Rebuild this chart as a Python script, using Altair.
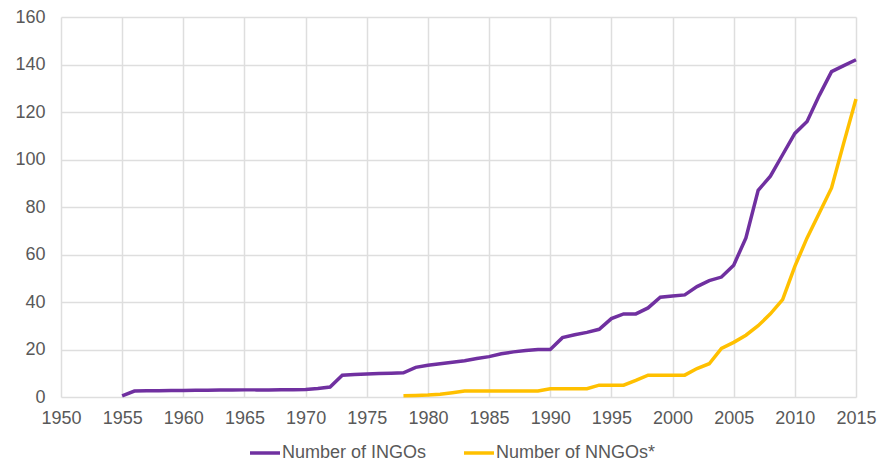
import altair as alt
import pandas as pd

ingo_years = list(range(1955, 2016))
ingo_values = [0.5, 2.5, 2.6, 2.6, 2.7, 2.7, 2.8, 2.8, 2.9, 2.9, 3.0, 3.0, 3.0, 3.1, 3.1,
               3.2, 3.6, 4.2, 9.2, 9.5, 9.7, 9.9, 10.0, 10.2, 12.5, 13.4, 14.0, 14.6, 15.3,
               16.2, 17.0, 18.2, 19.0, 19.6, 20.0, 20.0, 25.0, 26.2, 27.2, 28.5, 33.0,
               35.0, 35.0, 37.5, 42.0, 42.5, 43.0, 46.5, 49.0, 50.5, 55.5, 67.0, 87.0,
               93.0, 102.0, 111.0, 116.0, 127.0, 137.0, 139.5, 142.0]

nngo_years = list(range(1978, 2016))
nngo_values = [0.5, 0.6, 0.8, 1.2, 1.8, 2.5, 2.5, 2.5, 2.5, 2.5, 2.5, 2.5, 3.5, 3.5,
               3.5, 3.5, 5.0, 5.0, 5.0, 7.0, 9.2, 9.2, 9.2, 9.2, 12.0, 14.0, 20.5, 23.0,
               26.0, 30.0, 35.0, 41.0, 55.0, 67.0, 77.5, 88.0, 107.0, 125.5]

series_names = ["Number of INGOs", "Number of NNGOs*"]
series_colors = ["#7030a0", "#ffc000"]

df = pd.concat([
    pd.DataFrame({"year": ingo_years, "value": ingo_values, "series": series_names[0]}),
    pd.DataFrame({"year": nngo_years, "value": nngo_values, "series": series_names[1]}),
])

x_ticks = list(range(1950, 2016, 5))
y_ticks = list(range(0, 161, 20))

chart = alt.Chart(df).mark_line(strokeWidth=3.5).encode(
    x=alt.X("year:Q", scale=alt.Scale(domain=[1950, 2015], nice=False),
            axis=alt.Axis(values=x_ticks, format="d", title=None, ticks=False,
                          domain=False, labelPadding=12, labelFontSize=18,
                          labelFlush=False, labelOverlap=False,
                          labelColor="#595959", gridColor="#dedede", gridWidth=1.5,
                          labelFont="Liberation Sans")),
    y=alt.Y("value:Q", scale=alt.Scale(domain=[0, 160], nice=False),
            axis=alt.Axis(values=y_ticks, title=None, ticks=False, domain=False,
                          labelPadding=16, labelFontSize=18, labelColor="#595959",
                          labelFlush=False, labelOverlap=False,
                          gridColor="#dedede", gridWidth=1.5,
                          labelFont="Liberation Sans")),
    color=alt.Color("series:N",
                    scale=alt.Scale(domain=series_names, range=series_colors),
                    legend=alt.Legend(title=None, orient="none", direction="horizontal",
                                      legendX=187, legendY=419,
                                      symbolType="stroke", symbolSize=900,
                                      symbolStrokeWidth=3.5, labelFontSize=18,
                                      labelColor="#595959", labelOffset=0,
                                      columnPadding=30, labelFont="Liberation Sans")),
).properties(
    width=795, height=380,
    autosize=alt.AutoSizeParams(type="none"),
    padding={"left": 53, "top": 9, "right": 30, "bottom": 68},
).configure_view(stroke=None)

chart.save("out.html", embed_options={"renderer": "svg", "actions": False})
